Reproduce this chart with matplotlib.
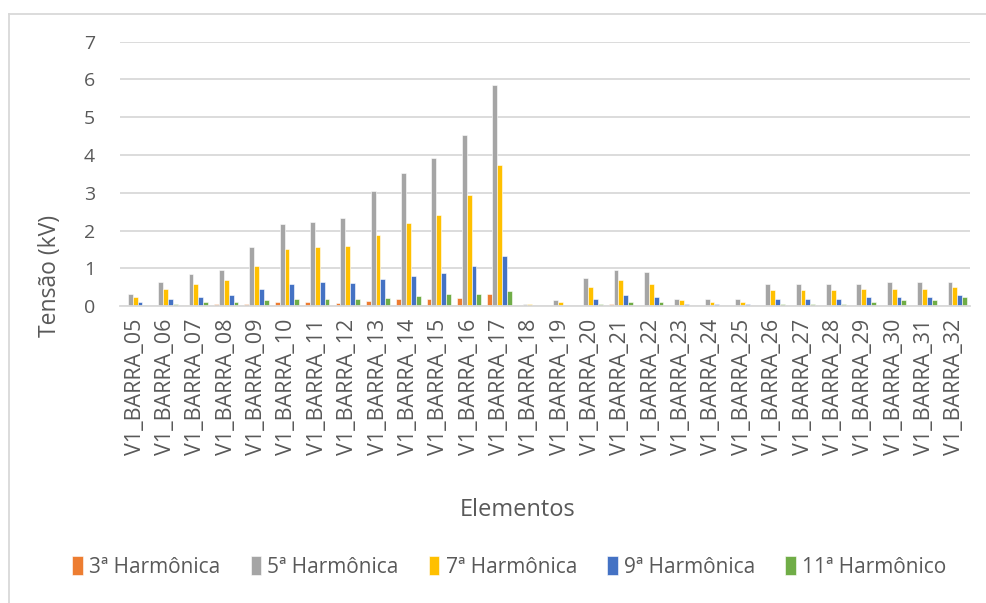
import numpy as np
import matplotlib.pyplot as plt
from matplotlib.lines import Line2D

plt.rcParams['font.family'] = ['Open Sans', 'DejaVu Sans']

barras = ['V1_BARRA_%02d' % i for i in range(5, 33)]

h3 = [0.01, 0.01, 0.02, 0.05, 0.05, 0.10, 0.10, 0.09, 0.13, 0.18, 0.18, 0.22, 0.31, 0.0,
      0.0, 0.0, 0.05, 0.0, 0.0, 0.0, 0.0, 0.0, 0.0, 0.0, 0.0, 0.0, 0.0, 0.0]
h5 = [0.33, 0.64, 0.86, 0.95, 1.56, 2.18, 2.22, 2.33, 3.04, 3.52, 3.92, 4.53, 5.86, 0.06,
      0.15, 0.73, 0.95, 0.90, 0.19, 0.19, 0.19, 0.59, 0.59, 0.59, 0.59, 0.64, 0.64, 0.64]
h7 = [0.24, 0.46, 0.59, 0.68, 1.07, 1.51, 1.56, 1.58, 1.89, 2.19, 2.42, 2.95, 3.73, 0.06,
      0.10, 0.50, 0.68, 0.59, 0.15, 0.10, 0.10, 0.42, 0.42, 0.42, 0.46, 0.46, 0.46, 0.50]
h9 = [0.11, 0.19, 0.24, 0.28, 0.46, 0.59, 0.64, 0.62, 0.71, 0.80, 0.88, 1.06, 1.33, 0.0,
      0.0, 0.19, 0.28, 0.24, 0.05, 0.05, 0.05, 0.19, 0.19, 0.19, 0.24, 0.24, 0.24, 0.28]
h11 = [0.02, 0.05, 0.10, 0.10, 0.15, 0.19, 0.19, 0.18, 0.22, 0.27, 0.31, 0.31, 0.40, 0.0,
       0.0, 0.05, 0.10, 0.10, 0.0, 0.0, 0.0, 0.05, 0.05, 0.05, 0.10, 0.15, 0.15, 0.24]

series = [
    ('3ª Harmônica', h3, '#ED7D31'),
    ('5ª Harmônica', h5, '#A5A5A5'),
    ('7ª Harmônica', h7, '#FFC000'),
    ('9ª Harmônica', h9, '#4472C4'),
    ('11ª Harmônico', h11, '#70AD47'),
]

txt = '#595959'
grid = '#D9D9D9'

fig = plt.figure(figsize=(9.87, 6.03), dpi=100)
ax = fig.add_axes([0.1216, 0.4925, 0.8612, 0.4383])

x = np.arange(len(barras))
w = 0.16
for k, (nome, vals, cor) in enumerate(series):
    ax.bar(x + (k - 2) * w, vals, w, color=cor, edgecolor='white', linewidth=0.4,
           label=nome, zorder=3)

ax.set_xlim(-0.5, len(barras) - 0.5)
ax.set_ylim(0, 7)
ax.set_yticks(range(8))
ax.set_xticks(x)
ax.set_xticklabels(barras, rotation=90)
ax.tick_params(length=0, colors=txt)
ax.tick_params(axis='y', pad=18, labelsize=14)
ax.tick_params(axis='x', pad=9, labelsize=15.5)
ax.yaxis.grid(True, color=grid, linewidth=1.3, zorder=0)
for s in ['top', 'right', 'left']:
    ax.spines[s].set_visible(False)
ax.spines['bottom'].set_color(grid)
ax.spines['bottom'].set_linewidth(1.3)
ax.spines['bottom'].set_zorder(4)

fig.text(0.051, 0.543, 'Tensão (kV)', rotation=90, ha='center', va='center',
         fontsize=16.5, color=txt)
fig.text(0.524, 0.154, 'Elementos', ha='center', va='center', fontsize=17, color=txt)

leg = fig.legend(loc='center', bbox_to_anchor=(0.516, 0.06), ncol=5, frameon=False,
                 fontsize=15, handlelength=0.5, handleheight=1.0, handletextpad=0.3,
                 columnspacing=1.45)
for t in leg.get_texts():
    t.set_color(txt)

# moldura do gráfico
fig.add_artist(Line2D([0.0091, 0.0091], [0, 0.9768], color=grid, linewidth=1.3))
fig.add_artist(Line2D([0.0091, 1], [0.9768, 0.9768], color=grid, linewidth=1.3))

fig.savefig('out.png', dpi=100)
